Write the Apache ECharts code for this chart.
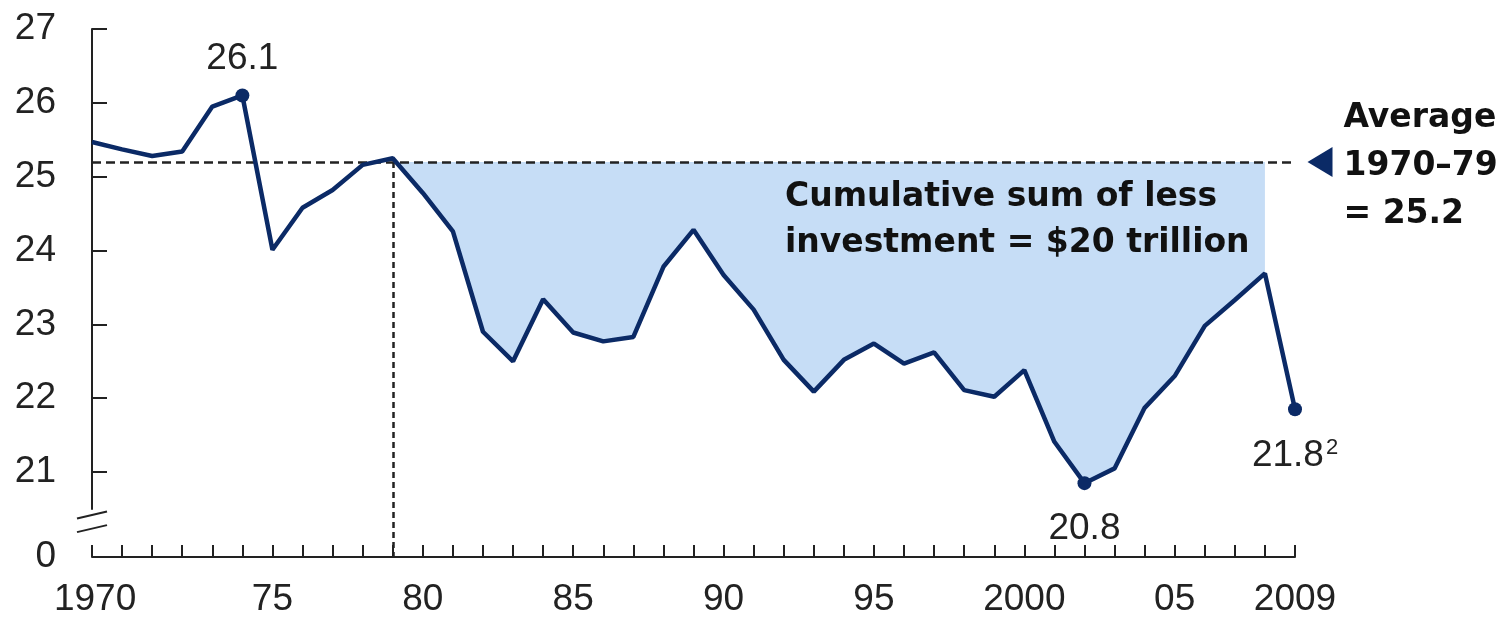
<!DOCTYPE html>
<html>
<head>
<meta charset="utf-8">
<script src="https://cdn.jsdelivr.net/npm/echarts@6.0.0/dist/echarts.min.js"></script>
<style>
html, body { margin: 0; padding: 0; background: #fff; }
#chart { width: 1506px; height: 620px; }
</style>
</head>
<body>
<div id="chart"></div>
<script>
// global investment rate, % of GDP
var years = [1969, 1970, 1971, 1972, 1973, 1974, 1975, 1976, 1977, 1978,
    1979, 1980, 1981, 1982, 1983, 1984, 1985, 1986, 1987, 1988,
    1989, 1990, 1991, 1992, 1993, 1994, 1995, 1996, 1997, 1998,
    1999, 2000, 2001, 2002, 2003, 2004, 2005, 2006, 2007, 2008, 2009];
var investment = [25.47, 25.37, 25.28, 25.34, 25.95, 26.1, 24.01, 24.58, 24.82, 25.16,
    25.25, 24.78, 24.26, 22.90, 22.50, 23.34, 22.89, 22.77, 22.83, 23.78,
    24.28, 23.67, 23.20, 22.52, 22.09, 22.52, 22.74, 22.47, 22.62, 22.11,
    22.02, 22.38, 21.41, 20.85, 21.05, 21.87, 22.30, 22.98, 23.33, 23.69, 21.85];

var average = 25.2;
var shortfallFrom = 1979;
var shortfallTo = 2008;

var markYears = [1974, 2002, 2009];
var markText = ['26.1', '20.8', '21.8{sup|2}'];
var markPos = ['top', 'bottom', 'bottom'];
var markDist = [11, 20, 21];

var xLabelYears = [1970, 1975, 1980, 1985, 1990, 1995, 2000, 2005, 2009];
var xLabelText = ['1970', '75', '80', '85', '90', '95', '2000', '05', '2009'];

var yTicks = [0, 21, 22, 23, 24, 25, 26, 27];

var navy = '#0b2a66';
var ink = '#222';

function buildLine() {
    var d = [];
    for (var i = 0; i < years.length; i++) d.push([years[i], investment[i]]);
    return d;
}

function buildShortfall() {
    var d = [];
    for (var i = 0; i < years.length; i++) {
        if (years[i] >= shortfallFrom && years[i] <= shortfallTo) {
            d.push([years[i], investment[i]]);
        }
    }
    return d;
}

function buildMarks() {
    var d = [];
    for (var i = 0; i < markYears.length; i++) {
        var v = investment[years.indexOf(markYears[i])];
        d.push({
            value: [markYears[i], v],
            label: {
                position: markPos[i],
                distance: markDist[i],
                formatter: markText[i]
            }
        });
    }
    return d;
}

var myChart = echarts.init(document.getElementById('chart'));
var shortfall = buildShortfall();

var option = {
    animation: false,
    grid: { left: 92, right: 211, top: 29, bottom: 63, containLabel: false },
    xAxis: {
        type: 'value',
        min: 1969,
        max: 2009,
        interval: 1,
        splitLine: { show: false },
        axisLine: { lineStyle: { color: ink, width: 2 } },
        axisTick: { inside: true, length: 12, lineStyle: { color: ink, width: 2 } },
        axisLabel: {
            margin: 24,
            fontSize: 37,
            fontFamily: 'Liberation Sans, Arial, sans-serif',
            color: ink,
            formatter: function (v) {
                var i = xLabelYears.indexOf(v);
                if (i < 0) return '';
                if (i == 0) return '{first|' + xLabelText[i] + '}';
                return xLabelText[i];
            },
            rich: {
                first: { fontSize: 37, fontFamily: 'Liberation Sans, Arial, sans-serif', color: ink, padding: [0, 54, 0, 0] }
            }
        }
    },
    yAxis: {
        type: 'value',
        min: 0,
        max: 27,
        interval: 1,
        breaks: [{ start: 0, end: 20.5, gap: 0.65 }],
        breakArea: { show: false },
        splitLine: { show: false },
        axisLine: { show: true, lineStyle: { color: ink, width: 2 } },
        axisTick: { show: true, inside: true, length: 15, customValues: yTicks, lineStyle: { color: ink, width: 2 } },
        axisLabel: {
            margin: 36,
            fontSize: 37,
            fontFamily: 'Liberation Sans, Arial, sans-serif',
            color: ink,
            customValues: yTicks
        }
    },
    series: [
        {
            name: 'shortfall',
            type: 'custom',
            coordinateSystem: 'cartesian2d',
            data: shortfall,
            silent: true,
            z: 1,
            renderItem: function (params, api) {
                if (params.dataIndex !== 0) return;
                var pts = [];
                for (var i = 0; i < shortfall.length; i++) {
                    pts.push(api.coord(shortfall[i]));
                }
                for (var j = shortfall.length - 1; j >= 0; j--) {
                    pts.push(api.coord([shortfall[j][0], average]));
                }
                return {
                    type: 'polygon',
                    shape: { points: pts },
                    style: { fill: '#c6ddf6' }
                };
            }
        },
        {
            name: 'investment',
            type: 'line',
            data: buildLine(),
            symbol: 'none',
            lineStyle: { color: navy, width: 4.5 },
            z: 5,
            markLine: {
                silent: true,
                symbol: 'none',
                label: { show: false },
                data: [
                    {
                        yAxis: average,
                        lineStyle: { color: ink, width: 2.5, type: [9, 5] }
                    },
                    [
                        { coord: [shortfallFrom, average], lineStyle: { color: ink, width: 2.5, type: [6, 4] } },
                        { coord: [shortfallFrom, 0] }
                    ]
                ]
            },
            markPoint: {
                silent: true,
                data: [
                    {
                        coord: [2009, average],
                        symbol: 'triangle',
                        symbolRotate: 90,
                        symbolSize: [30, 25],
                        symbolOffset: [25, 0],
                        itemStyle: { color: navy },
                        label: { show: false }
                    },
                    {
                        coord: [2009, average],
                        symbol: 'rect',
                        symbolSize: 1,
                        itemStyle: { color: 'rgba(0,0,0,0)' },
                        label: {
                            show: true,
                            position: 'right',
                            distance: 48,
                            offset: [0, 4],
                            align: 'left',
                            formatter: 'Average\n1970\u201379\n= 25.2',
                            fontFamily: 'DejaVu Sans, sans-serif',
                            fontWeight: 'bold',
                            fontSize: 33,
                            lineHeight: 48,
                            color: '#111'
                        }
                    }
                ]
            }
        },
        {
            name: 'marks',
            type: 'scatter',
            data: buildMarks(),
            symbolSize: 14,
            itemStyle: { color: navy, opacity: 1 },
            z: 6,
            label: {
                show: true,
                fontSize: 37,
                fontFamily: 'Liberation Sans, Arial, sans-serif',
                color: ink,
                rich: {
                    sup: { fontSize: 22, fontFamily: 'Liberation Sans, Arial, sans-serif', color: ink, verticalAlign: 'top', padding: [0, 0, 14, 2] }
                }
            }
        }
    ],
    graphic: [
        {
            type: 'text',
            left: 785,
            top: 174,
            z: 100,
            style: {
                text: 'Cumulative sum of less\ninvestment = $20 trillion',
                font: 'bold 33px "DejaVu Sans", sans-serif',
                lineHeight: 46,
                fill: '#111'
            }
        }
    ]
};

myChart.setOption(option);

// axis break slashes
var y0 = myChart.convertToPixel({ yAxisIndex: 0 }, 0);
var y21 = myChart.convertToPixel({ yAxisIndex: 0 }, 21);
var ax = myChart.convertToPixel({ xAxisIndex: 0 }, 1969);
var ya = y0 - (y0 - y21) * 0.5;
var yb = y0 - (y0 - y21) * 0.34;
myChart.setOption({
    graphic: [
        option.graphic[0],
        {
            type: 'polygon',
            shape: { points: [[ax - 4, ya + 3], [ax + 4, ya + 1], [ax + 4, yb + 1], [ax - 4, yb + 3]] },
            style: { fill: '#fff' },
            z: 100
        },
        {
            type: 'line',
            shape: { x1: ax - 15, y1: ya + 4, x2: ax + 15, y2: ya - 3 },
            style: { stroke: ink, lineWidth: 2 },
            z: 101
        },
        {
            type: 'line',
            shape: { x1: ax - 15, y1: yb + 4, x2: ax + 15, y2: yb - 3 },
            style: { stroke: ink, lineWidth: 2 },
            z: 101
        }
    ]
});
</script>
</body>
</html>
